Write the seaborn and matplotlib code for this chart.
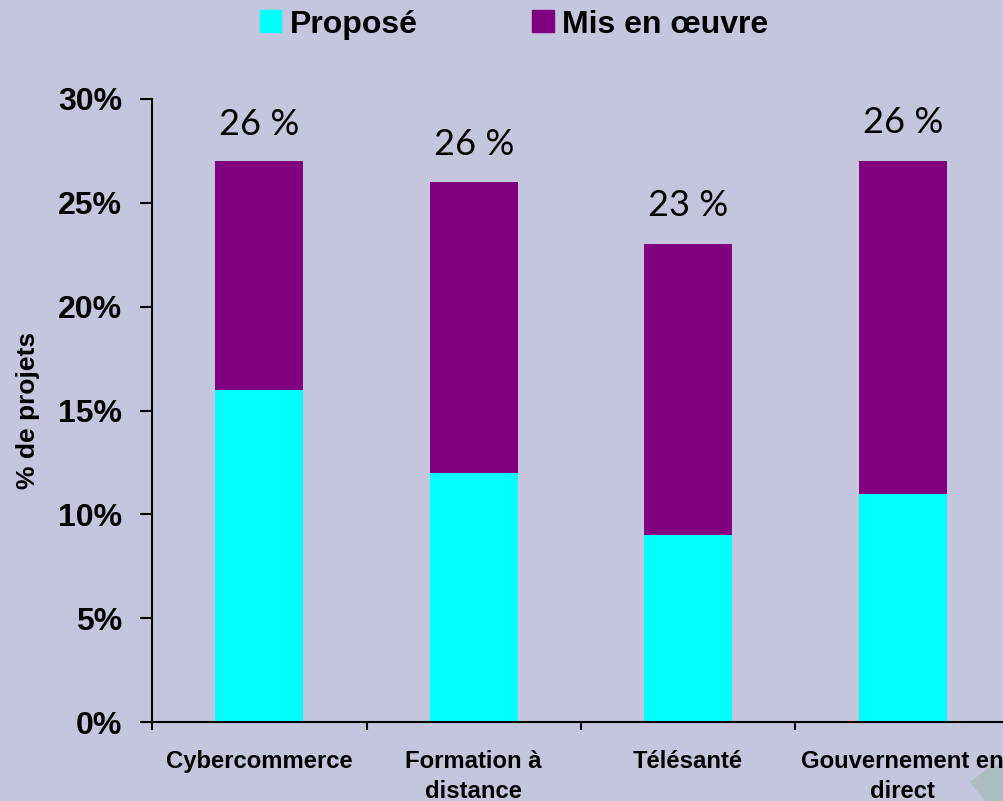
# ── Imports ──────────────────────────────────────────────────────────────────
import numpy as np
import pandas as pd
import matplotlib
matplotlib.use("Agg")
import matplotlib.pyplot as plt
from matplotlib.patches import Patch, Polygon
import seaborn as sns

# ── Data ─────────────────────────────────────────────────────────────────────
categories = ["Cybercommerce", "Formation à\ndistance", "Télésanté", "Gouvernement en\ndirect"]
propose    = [16, 12, 9, 11]
mis_en_oeuvre = [11, 14, 14, 16]
top_labels = ["26 %", "26 %", "23 %", "26 %"]
yticks     = [0, 5, 10, 15, 20, 25, 30]

BG = "#C3C6DC"
CYAN = "#00FFFF"
PURPLE = "#800080"

# ── Plot ─────────────────────────────────────────────────────────────────────
sns.set_theme(style="white")
plt.rcParams["font.family"] = ["Liberation Sans", "DejaVu Sans"]

fig = plt.figure(figsize=(10.04, 8.01), dpi=100, facecolor=BG)
ax = fig.add_axes([152 / 1004, 1 - 722 / 801, (1010 - 152) / 1004, (722 - 99) / 801])
ax.set_facecolor(BG)

df = pd.DataFrame({"cat": categories, "p": propose, "m": mis_en_oeuvre})
df["total"] = df["p"] + df["m"]

# stacked: total behind, cyan on top of it
sns.barplot(data=df, x="cat", y="total", color=PURPLE, width=0.41, saturation=1, linewidth=0, ax=ax)
sns.barplot(data=df, x="cat", y="p", color=CYAN, width=0.41, saturation=1, linewidth=0, ax=ax)

ax.set_ylim(0, 30)
ax.set_xlim(-0.5, 3.5)
ax.set_yticks(yticks)
ax.set_yticklabels([f"{v}%" for v in yticks], fontsize=23, fontweight="bold", color="black")
ax.set_xticks(np.arange(0.5, 4.5) - 1)
ax.set_xticklabels([])
ax.tick_params(axis="y", length=8.5, width=1.5, color="black", left=True, direction="out", pad=13)
ax.tick_params(axis="x", length=6, width=1.5, color="black", bottom=True, direction="out")
ax.set_xlabel("")
ax.set_ylabel("% de projets", fontsize=19, fontweight="bold", color="black")
ax.yaxis.set_label_coords((40 - 152) / (1010 - 152), 0.5)

for s in ["top", "right"]:
    ax.spines[s].set_visible(False)
for s in ["left", "bottom"]:
    ax.spines[s].set_color("black")
    ax.spines[s].set_linewidth(1.5)

for i, c in enumerate(categories):
    ax.annotate(c, (i, 0), xytext=(0, -20), textcoords="offset points", ha="center", va="top",
                fontsize=17.2, fontweight="bold", color="black", linespacing=1.4, annotation_clip=False)

label_y = [28.75, 27.8, 24.85, 28.85]
for i, t in enumerate(top_labels):
    ax.text(i, label_y[i], t, ha="center", va="center", fontsize=26, color="black",
            family=["Lato", "DejaVu Sans"])

handles = [Patch(color=CYAN, label="Proposé"), Patch(color=PURPLE, label="Mis en œuvre")]
leg = fig.legend(handles=handles, loc="upper left", bbox_to_anchor=(0.230, 1.024), ncol=2, frameon=False,
                 prop={"size": 23, "weight": "bold"}, handlelength=0.68, handleheight=0.68,
                 handletextpad=0.25, columnspacing=3.6, labelcolor="black")

# small logo fragment in the bottom right corner
corner = [(970, 782), (990, 767), (1004, 762), (1004, 801), (985, 801)]
fig.add_artist(Polygon([(x / 1004, 1 - y / 801) for x, y in corner], closed=True, transform=fig.transFigure,
                       facecolor="#ABBDBE", edgecolor="none", zorder=-1))

fig.savefig("out.png", dpi=100, facecolor=BG)
